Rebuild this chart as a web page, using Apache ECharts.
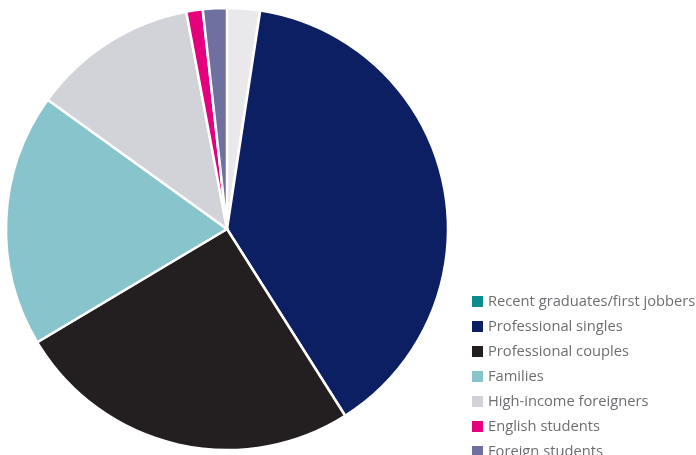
<!DOCTYPE html>
<html><head><meta charset="utf-8">
<script src="https://cdn.jsdelivr.net/npm/echarts@6/dist/echarts.min.js"></script>
<style>html,body{margin:0;padding:0;background:#fff;overflow:hidden}#c{width:696px;height:455px}</style>
</head><body><div id="c"></div>
<script>
const categories = ["Other","Recent graduates/first jobbers","Professional singles","Professional couples","Families","High-income foreigners","English students","Foreign students"];
const values = [2.4, 0, 38.6, 25.4, 18.5, 12.1, 1.2, 1.75];
const colors = ["#e9e9ec","#0a8c8f","#0c1f63","#231f20","#88c4cc","#d1d3d8","#e5007d","#6f6fa0"];
const legendNames = categories.slice(1);

const chart = echarts.init(document.getElementById('c'), null, {renderer:'canvas'});
chart.setOption({
  animation:false,
  legend:{
    data: legendNames,
    orient:'vertical', left:470, top:294, height:300, padding:0,
    itemWidth:13, itemHeight:13, itemGap:10, icon:'rect',
    textStyle:{color:'#6d6e71', fontSize:14.7, fontFamily:'Open Sans', padding:[0,0,0,-1]},
    selectedMode:false
  },
  series:[{
    type:'pie', center:[227,229], radius:[0,221], startAngle:90, clockwise:true,
    label:{show:false}, labelLine:{show:false},
    itemStyle:{borderColor:'#fff', borderWidth:2.5},
    emphasis:{disabled:true},
    data: categories.map((n,i)=>({name:n, value:values[i], itemStyle:{color:colors[i]}}))
  }]
});
</script></body></html>
